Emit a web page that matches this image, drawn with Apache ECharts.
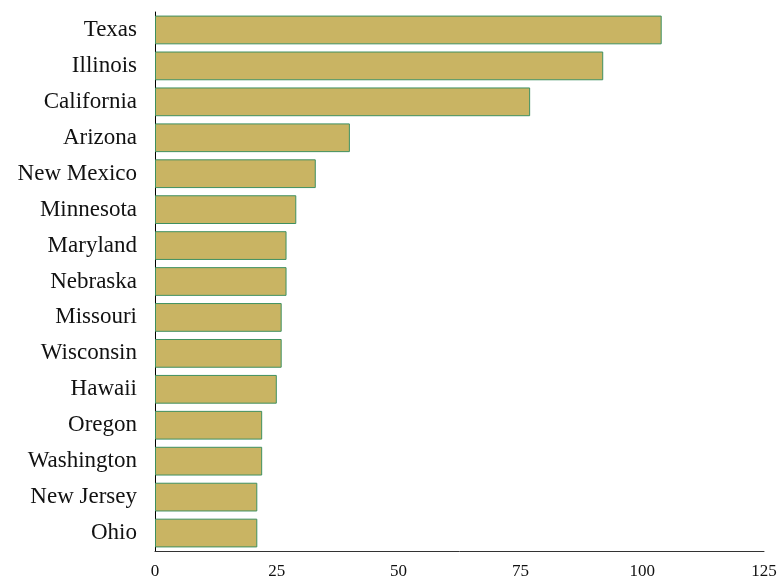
<!DOCTYPE html>
<html><head><meta charset="utf-8">
<script src="https://cdn.jsdelivr.net/npm/echarts@6/dist/echarts.min.js"></script>
<style>html,body{margin:0;padding:0;background:#fff}#c{width:781px;height:581px}</style>
</head><body><div id="c"></div>
<script>
const categories = ["Texas","Illinois","California","Arizona","New Mexico","Minnesota","Maryland","Nebraska","Missouri","Wisconsin","Hawaii","Oregon","Washington","New Jersey","Ohio"];
const values = [104,92,77,40,33,29,27,27,26,26,25,22,22,21,21];
const xTicks = [0,25,50,75,100,125];

const chart = echarts.init(document.getElementById('c'), null, {renderer:'canvas'});
chart.setOption({
  animation:false,
  backgroundColor:'#ffffff',
  grid:{left:155,right:17,top:12,bottom:30,containLabel:false},
  xAxis:{
    type:'value', min:xTicks[0], max:xTicks[xTicks.length-1], interval:25,
    axisLine:{show:true,lineStyle:{color:'#333333',width:1}},
    axisTick:{show:false},
    splitLine:{show:false},
    axisLabel:{color:'#111',fontFamily:'Liberation Serif',fontSize:17,margin:12}
  },
  yAxis:{
    type:'category', data:categories, inverse:true,
    axisLine:{show:true,lineStyle:{color:'#000000',width:1}},
    axisTick:{show:false},
    axisLabel:{color:'#111',fontFamily:'Liberation Serif',fontSize:23,margin:18}
  },
  series:[{
    type:'bar', data:values, barCategoryGap:'20%',
    itemStyle:{color:'#c9b463',borderColor:'#3f9060',borderWidth:1}
  }]
});
</script></body></html>
